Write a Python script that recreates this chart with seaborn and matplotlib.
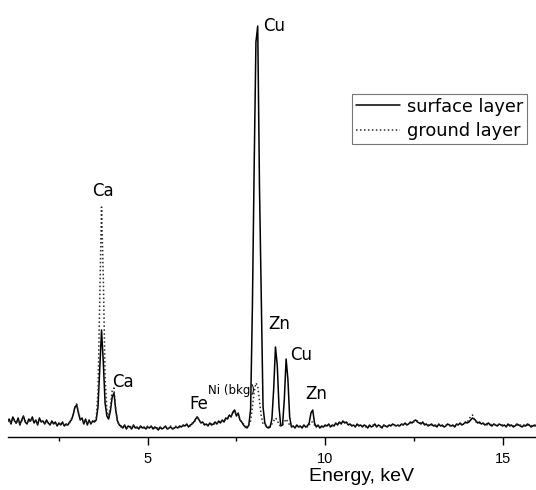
import numpy as np
import pandas as pd
import matplotlib
matplotlib.use("Agg")
import matplotlib.pyplot as plt
import seaborn as sns
from matplotlib.ticker import FixedLocator, MultipleLocator

# ---------------- data ----------------
energy_start_keV = 1.05
energy_step_keV = 0.05

# intensity, arbitrary units; one row = 1 keV (20 channels)
surface_layer = [
    15, 18, 13, 20, 16, 14, 19, 12, 17, 21, 15, 13, 18, 16, 20, 14, 17, 12, 19, 15,      # 1.05-2.00
    16, 13, 17, 14, 12, 16, 13, 15, 11, 14, 12, 15, 11, 13, 12, 15, 17, 22, 30, 32,      # 2.05-3.00
    24, 17, 19, 13, 18, 12, 17, 13, 16, 15, 17, 30, 68, 107, 75, 34, 21, 18, 26, 40,     # 3.05-4.00
    44, 27, 16, 12, 11, 9, 12, 8, 11, 10, 8, 12, 9, 10, 8, 11, 9, 10, 8, 10,             # 4.05-5.00
    9, 11, 8, 10, 9, 7, 10, 8, 9, 11, 8, 9, 10, 8, 9, 10, 9, 11, 10, 12,                 # 5.05-6.00
    11, 13, 10, 12, 13, 15, 18, 20, 17, 14, 15, 12, 13, 11, 14, 12, 13, 15, 13, 16,      # 6.05-7.00
    14, 17, 15, 19, 18, 22, 20, 25, 27, 21, 24, 17, 15, 12, 10, 9, 12, 28, 130, 270,     # 7.05-8.00
    395, 411, 250, 140, 30, 14, 10, 9, 10, 18, 48, 90, 72, 30, 11, 12, 38, 78, 58, 20,   # 8.05-9.00
    10, 11, 9, 12, 10, 11, 9, 12, 10, 11, 14, 24, 27, 14, 10, 12, 9, 11, 10, 12,         # 9.05-10.00
    11, 13, 10, 12, 11, 14, 12, 15, 13, 16, 14, 15, 12, 13, 11, 12, 10, 13, 11, 12,      # 10.05-11.00
    10, 12, 11, 9, 12, 10, 11, 13, 10, 12, 11, 9, 12, 11, 10, 12, 11, 13, 12, 11,        # 11.05-12.00
    12, 11, 13, 12, 14, 12, 13, 15, 14, 16, 17, 15, 14, 13, 15, 12, 13, 11, 12, 13,      # 12.05-13.00
    11, 12, 10, 13, 11, 12, 10, 11, 13, 12, 11, 12, 10, 13, 12, 14, 12, 13, 15, 14,      # 13.05-14.00
    15, 17, 19, 18, 16, 14, 15, 13, 14, 12, 13, 14, 12, 11, 13, 12, 11, 13, 12, 11,      # 14.05-15.00
    12, 10, 13, 11, 12, 10, 11, 13, 12, 11, 10, 12, 11, 13, 12, 10, 11, 12, 11, 12,      # 15.05-16.00
]

ground_layer = [
    16, 17, 14, 19, 17, 13, 18, 13, 16, 20, 16, 14, 17, 15, 19, 15, 16, 13, 18, 16,      # 1.05-2.00
    15, 14, 16, 13, 13, 15, 14, 14, 12, 13, 13, 14, 12, 12, 13, 14, 18, 23, 29, 33,      # 2.05-3.00
    25, 18, 18, 14, 17, 13, 16, 14, 15, 16, 18, 45, 140, 230, 160, 60, 26, 21, 30, 46,   # 3.05-4.00
    49, 28, 15, 12, 10, 10, 11, 9, 10, 11, 9, 11, 10, 9, 9, 10, 10, 9, 9, 11,            # 4.05-5.00
    10, 10, 9, 9, 10, 8, 9, 9, 10, 10, 9, 8, 11, 9, 8, 11, 10, 10, 11, 11,               # 5.05-6.00
    12, 12, 11, 11, 14, 14, 17, 21, 16, 15, 14, 13, 12, 12, 13, 13, 12, 14, 14, 15,      # 6.05-7.00
    15, 16, 16, 18, 19, 21, 21, 24, 26, 22, 23, 18, 14, 13, 11, 10, 12, 16, 30, 45,      # 7.05-8.00
    54, 51, 36, 21, 13, 12, 11, 10, 11, 13, 16, 19, 17, 12, 11, 12, 15, 18, 15, 12,      # 8.05-9.00
    11, 10, 10, 11, 11, 10, 10, 11, 11, 10, 12, 15, 15, 12, 11, 11, 10, 10, 11, 11,      # 9.05-10.00
    12, 12, 11, 11, 12, 13, 13, 14, 14, 15, 15, 14, 13, 12, 12, 11, 11, 12, 12, 11,      # 10.05-11.00
    11, 11, 10, 10, 11, 11, 12, 12, 11, 11, 10, 10, 11, 12, 11, 11, 12, 12, 11, 12,      # 11.05-12.00
    11, 12, 12, 13, 13, 13, 14, 14, 15, 15, 16, 16, 15, 14, 14, 13, 12, 12, 13, 12,      # 12.05-13.00
    12, 11, 11, 12, 12, 11, 11, 12, 12, 11, 12, 11, 11, 12, 13, 13, 13, 14, 14, 15,      # 13.05-14.00
    17, 21, 22, 18, 15, 14, 14, 13, 13, 13, 12, 13, 13, 12, 12, 13, 12, 12, 12, 12,      # 14.05-15.00
    11, 11, 12, 12, 11, 11, 12, 12, 11, 12, 11, 11, 12, 12, 11, 11, 12, 11, 12, 11,      # 15.05-16.00
]

layers = ["surface layer", "ground layer"]

peak_labels = ["Ca", "Ca", "Fe", "Cu", "Zn", "Cu", "Zn"]
peak_label_energy = [3.74, 4.29, 6.43, 8.56, 8.70, 9.32, 9.75]
peak_label_height = [241, 50, 28, 406, 108, 77, 38]

ni_label = "Ni (bkg)"
ni_label_energy = 6.70
ni_label_height = 43

x_major_ticks = [5, 10, 15]
x_label = "Energy, keV"

# ---------------- figure ----------------
sns.set_theme(style="white")
plt.rcParams["font.family"] = ["DejaVu Sans"]
plt.rcParams["text.color"] = "black"
plt.rcParams["axes.labelcolor"] = "black"
plt.rcParams["xtick.color"] = "black"

fig = plt.figure(figsize=(5.36, 4.90), dpi=100)
ax = fig.add_axes([8 / 536, 53 / 490, 528 / 536, 437 / 490])

energy = np.round(energy_start_keV + energy_step_keV * np.arange(len(surface_layer)), 2)
df = pd.DataFrame({
    "Energy": np.concatenate([energy, energy]),
    "Intensity": surface_layer + ground_layer,
    "layer": [layers[0]] * len(surface_layer) + [layers[1]] * len(ground_layer),
})

sns.lineplot(
    data=df, x="Energy", y="Intensity", hue="layer", style="layer",
    hue_order=layers, style_order=layers,
    palette={layers[0]: "black", layers[1]: "#2a2a2a"},
    dashes={layers[0]: "", layers[1]: (1, 1.6)},
    linewidth=1.1, estimator=None, sort=False, ax=ax,
)
for ln in ax.lines:
    if ln.get_label() == layers[0]:
        ln.set_zorder(3)

ax.set_xlim(1.065, 15.94)
ax.set_ylim(0, 437)

sns.despine(ax=ax, left=True, top=True, right=True)
ax.spines["bottom"].set_color("black")
ax.spines["bottom"].set_linewidth(1.0)

ax.xaxis.set_major_locator(FixedLocator(x_major_ticks))
ax.xaxis.set_minor_locator(MultipleLocator(2.5))
ax.set_yticks([])
ax.tick_params(axis="x", which="major", direction="out", length=6, width=1.0,
               color="black", pad=5, labelsize=10.5, labelcolor="black",
               bottom=True, labelfontfamily="Liberation Sans")
ax.tick_params(axis="x", which="minor", direction="out", length=3, width=1.0,
               color="black", bottom=True)
ax.set_xlabel(x_label, fontsize=14, family="Liberation Sans", color="black")
ax.xaxis.set_label_coords(0.67, -0.071)
ax.set_ylabel("")

for lab, ex, hy in zip(peak_labels, peak_label_energy, peak_label_height):
    ax.text(ex, hy, lab, ha="center", va="baseline", fontsize=12, color="black")
ax.text(ni_label_energy, ni_label_height, ni_label, ha="left", va="baseline",
        fontsize=8.5, color="black")

handles, labels = ax.get_legend_handles_labels()
leg = ax.legend(handles, labels, loc="upper left", bbox_to_anchor=(0.6515, 0.785),
                borderaxespad=0, frameon=True, fancybox=False, fontsize=12.8,
                handlelength=2.5, handletextpad=0.4, borderpad=0.2,
                labelspacing=0.37, title=None, labelcolor="black")
leg.get_frame().set_edgecolor("#555555")
leg.get_frame().set_linewidth(0.8)
leg.get_frame().set_facecolor("white")

fig.savefig("out.png", dpi=100)
